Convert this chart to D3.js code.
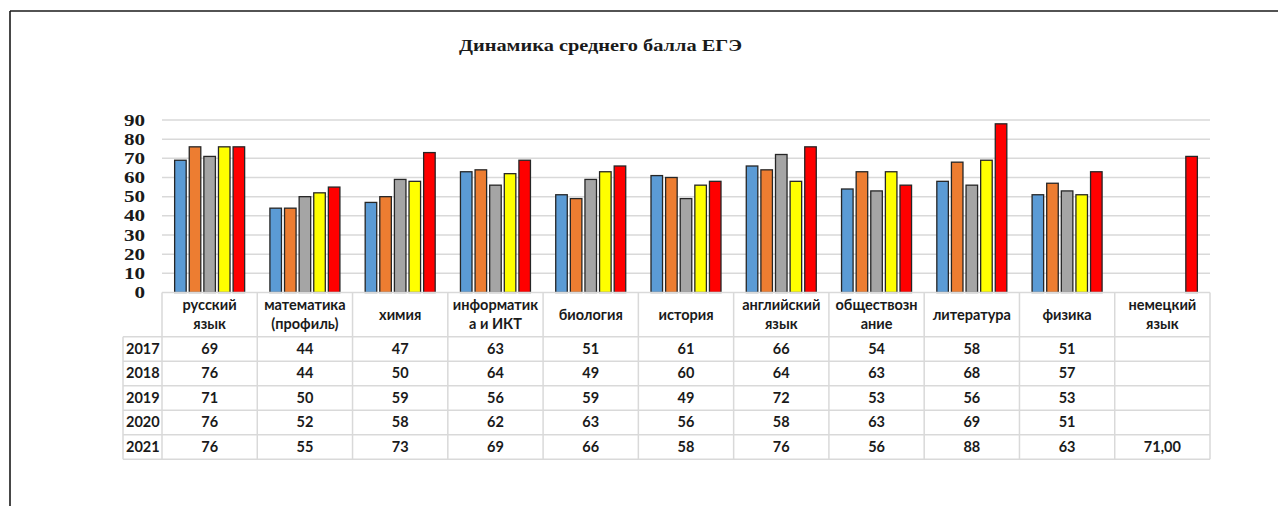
<!DOCTYPE html>
<html>
<head>
<meta charset="utf-8">
<script src="https://cdn.jsdelivr.net/npm/d3@7"></script>
<style>
  html, body { margin: 0; padding: 0; background: #fff; }
  svg { display: block; }
</style>
</head>
<body>
<svg id="chart" width="1278" height="506"></svg>
<script>
// ---- data ----
const title = "Динамика среднего балла ЕГЭ";
const categories = [
  ["русский", "язык"],
  ["математика", "(профиль)"],
  ["химия"],
  ["информатик", "а и ИКТ"],
  ["биология"],
  ["история"],
  ["английский", "язык"],
  ["обществозн", "ание"],
  ["литература"],
  ["физика"],
  ["немецкий", "язык"]
];
const years = ["2017", "2018", "2019", "2020", "2021"];
const v2017 = [69, 44, 47, 63, 51, 61, 66, 54, 58, 51, null];
const v2018 = [76, 44, 50, 64, 49, 60, 64, 63, 68, 57, null];
const v2019 = [71, 50, 59, 56, 59, 49, 72, 53, 56, 53, null];
const v2020 = [76, 52, 58, 62, 63, 56, 58, 63, 69, 51, null];
const v2021 = [76, 55, 73, 69, 66, 58, 76, 56, 88, 63, 71];
const series = [v2017, v2018, v2019, v2020, v2021];
const tableText = [
  ["69", "44", "47", "63", "51", "61", "66", "54", "58", "51", ""],
  ["76", "44", "50", "64", "49", "60", "64", "63", "68", "57", ""],
  ["71", "50", "59", "56", "59", "49", "72", "53", "56", "53", ""],
  ["76", "52", "58", "62", "63", "56", "58", "63", "69", "51", ""],
  ["76", "55", "73", "69", "66", "58", "76", "56", "88", "63", "71,00"]
];
const yTicks = [0, 10, 20, 30, 40, 50, 60, 70, 80, 90];
const colors = ["#5B9BD5", "#ED7D31", "#A5A5A5", "#FFFF00", "#FF0000"];

// ---- layout ----
const svg = d3.select("#chart");
const plotLeft = 162, plotRight = 1210;
const yTop = 120, yBase = 292.5;
const headerBottom = 336.7, rowH = 24.5;
const rowLabelLeft = 123;
const gridColor = "#d9d9d9";

// frame
svg.append("line").attr("x1", 10).attr("x2", 1278).attr("y1", 11).attr("y2", 11)
  .attr("stroke", "#1a1a1a").attr("stroke-width", 1.6);
svg.append("line").attr("x1", 10).attr("x2", 10).attr("y1", 11).attr("y2", 506)
  .attr("stroke", "#1a1a1a").attr("stroke-width", 1.6);

// title
svg.append("text")
  .attr("x", 459).attr("y", 51)
  .attr("textLength", 283).attr("lengthAdjust", "spacingAndGlyphs")
  .attr("font-family", "'Liberation Serif', 'Times New Roman', serif")
  .attr("font-weight", "bold").attr("font-size", 16).attr("fill", "#1a1a1a")
  .text(title);

const x0 = d3.scaleBand().domain(d3.range(categories.length)).range([plotLeft, plotRight]).padding(0);
const x1 = d3.scaleBand().domain(years).range([-35, 35]).paddingInner(0.21).paddingOuter(0);
const y = d3.scaleLinear().domain([0, 90]).range([yBase, yTop]);

// gridlines
svg.append("g").selectAll("line").data(yTicks.filter(d => d > 0)).join("line")
  .attr("x1", plotLeft).attr("x2", plotRight)
  .attr("y1", d => y(d)).attr("y2", d => y(d))
  .attr("stroke", gridColor).attr("stroke-width", 1.5);

// y tick labels
svg.append("g").selectAll("text").data(yTicks).join("text")
  .attr("transform", d => `translate(145,${y(d) + 5.5}) scale(1.32,1)`)
  .attr("text-anchor", "end")
  .attr("font-family", "'Liberation Serif', 'Times New Roman', serif")
  .attr("font-weight", "bold").attr("font-size", 16).attr("fill", "#1a1a1a")
  .text(d => d);

// bars
const bars = [];
series.forEach((vals, si) => vals.forEach((v, ci) => {
  if (v !== null) bars.push({ si, ci, v });
}));
svg.append("g").selectAll("rect").data(bars).join("rect")
  .attr("x", d => x0(d.ci) + x0.bandwidth() / 2 + x1(years[d.si]))
  .attr("width", x1.bandwidth())
  .attr("y", d => y(d.v))
  .attr("height", d => yBase - y(d.v))
  .attr("fill", d => colors[d.si])
  .attr("stroke", "#262626").attr("stroke-width", 1.3);

// table
const tbl = svg.append("g");
const tableBottom = headerBottom + rowH * years.length;
// horizontal lines
tbl.append("line").attr("x1", plotLeft).attr("x2", plotRight).attr("y1", yBase).attr("y2", yBase)
  .attr("stroke", gridColor).attr("stroke-width", 1.5);
d3.range(years.length + 1).forEach(i => {
  const yy = headerBottom + rowH * i;
  tbl.append("line").attr("x1", rowLabelLeft).attr("x2", plotRight).attr("y1", yy).attr("y2", yy)
    .attr("stroke", gridColor).attr("stroke-width", 1.5);
});
// vertical lines
d3.range(categories.length + 1).forEach(i => {
  const xx = plotLeft + x0.step() * i;
  tbl.append("line").attr("x1", xx).attr("x2", xx).attr("y1", yBase).attr("y2", tableBottom)
    .attr("stroke", gridColor).attr("stroke-width", 1.5);
});
tbl.append("line").attr("x1", rowLabelLeft).attr("x2", rowLabelLeft).attr("y1", headerBottom).attr("y2", tableBottom)
  .attr("stroke", gridColor).attr("stroke-width", 1.5);

const tFont = "Lato, 'Open Sans', sans-serif";
// header labels
categories.forEach((lines, ci) => {
  const cx = x0(ci) + x0.bandwidth() / 2;
  const midY = (yBase + headerBottom) / 2;
  const lh = 19.5;
  lines.forEach((ln, li) => {
    const yy = midY + (li - (lines.length - 1) / 2) * lh + 5;
    tbl.append("text").attr("x", cx).attr("y", yy).attr("text-anchor", "middle")
      .attr("font-family", tFont).attr("font-weight", "bold").attr("font-size", 14.5)
      .attr("fill", "#1a1a1a").text(ln);
  });
});
// rows
years.forEach((yr, ri) => {
  const cy = headerBottom + rowH * ri + rowH / 2 + 5;
  tbl.append("text").attr("x", 126).attr("y", cy)
    .attr("font-family", tFont).attr("font-weight", "bold").attr("font-size", 14.5)
    .attr("fill", "#1a1a1a").text(yr);
  tableText[ri].forEach((t, ci) => {
    tbl.append("text").attr("x", x0(ci) + x0.bandwidth() / 2).attr("y", cy)
      .attr("text-anchor", "middle")
      .attr("font-family", tFont).attr("font-weight", "bold").attr("font-size", 14.5)
      .attr("fill", "#1a1a1a").text(t);
  });
});
</script>
</body>
</html>
